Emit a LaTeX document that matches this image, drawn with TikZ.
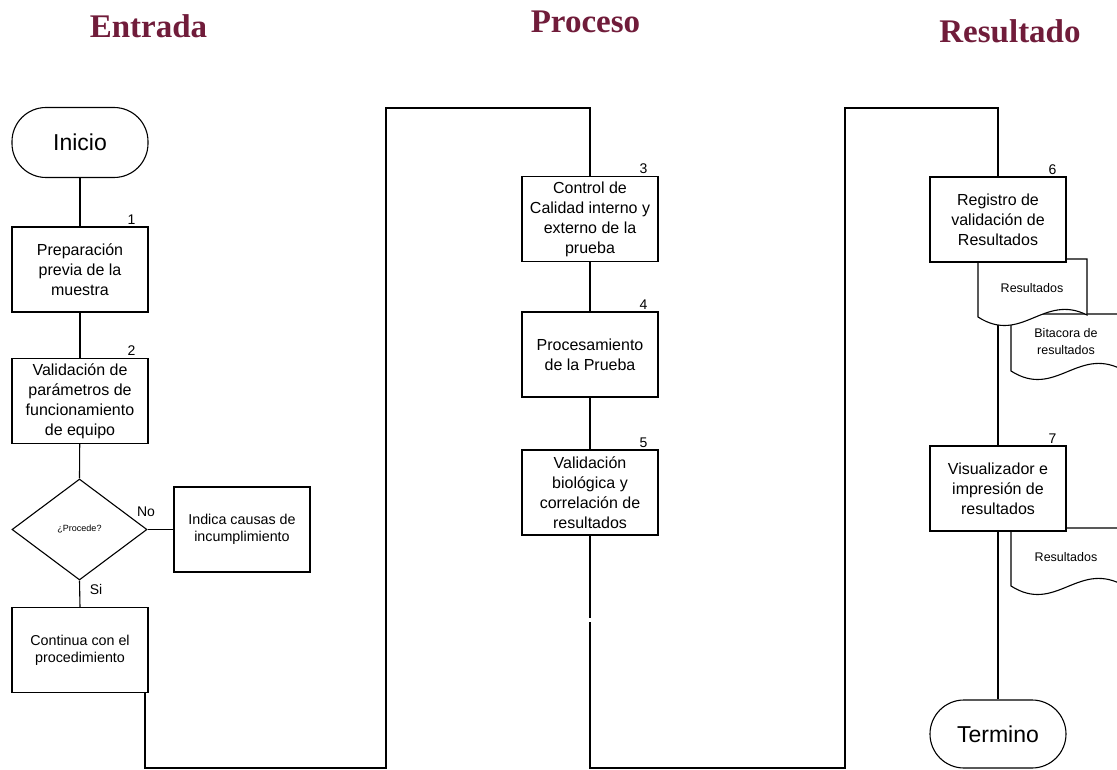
\documentclass[tikz,border=0pt]{standalone}
\usepackage{fontspec}
\setmainfont{Liberation Sans}
\newfontfamily\titlefont{Liberation Serif}
\usetikzlibrary{shapes.geometric,calc}
\definecolor{titlered}{RGB}{112,28,58}

% document symbol with a wavy bottom edge: x0, y0 (top), width, y of lower-left corner
\newcommand\docsym[4]{%
  \draw[fill=white] (#1,#2) -- (#1+#3,#2) -- (#1+#3,#4-2)
    .. controls (#1+0.6*#3,#4-24) and (#1+0.4*#3,#4+28) .. (#1,#4) -- cycle;}

\begin{document}
\begin{tikzpicture}[x=1pt,y=-1pt,line width=1.1pt,
  proc/.style={draw,fill=white,minimum width=136pt,minimum height=85pt,
    inner sep=2pt,align=center,font=\fontsize{16}{20}\selectfont},
  smallproc/.style={proc,font=\fontsize{14.3}{17}\selectfont},
  term/.style={draw,fill=white,rounded corners=34pt,minimum width=136pt,
    minimum height=70pt,font=\fontsize{23}{26}\selectfont},
  decision/.style={draw,fill=white,diamond,minimum width=135pt,minimum height=101pt,
    inner sep=0pt,font=\fontsize{9}{10}\selectfont},
  stepnum/.style={font=\fontsize{14}{14}\selectfont,anchor=base},
  lanetitle/.style={font=\titlefont\bfseries\fontsize{33}{36}\selectfont,
    text=titlered,anchor=base},
  doctext/.style={font=\fontsize{12.5}{17}\selectfont,align=center},
  lbl/.style={font=\fontsize{14}{14}\selectfont}]
\useasboundingbox (0,0) rectangle (1117,770);
\clip (0,0) rectangle (1117,770);

% lane titles
\node[lanetitle] (tin)  at (148.5,38) {Entrada};
\node[lanetitle] (tpro) at (585.5,33) {Proceso};
\node[lanetitle] (tres) at (1010,43) {Resultado};

% ---------- Entrada ----------
\node[term] (inicio) at (80,142.5) {Inicio};
\node[proc] (b1) at (80,269.5) {Preparación\\previa de la\\muestra};
\node[proc] (b2) at (80,401) {Validación de\\parámetros de\\funcionamiento\\de equipo};
\node[decision] (dec) at (79.5,529.5) {¿Procede?};
\node[smallproc] (ind) at (242,529.5) {Indica causas de\\incumplimiento};
\node[smallproc] (cont) at (80,650) {Continua con el\\procedimiento};

\node[stepnum] (n1) at ($(b1.north east)+(-17,-2)$) {1};
\node[stepnum] (n2) at ($(b2.north east)+(-17,-2)$) {2};
\node[lbl] (no) at (146,512) {No};
\node[lbl] (si) at (96,589) {Si};

\draw (inicio) -- (b1);
\draw (b1) -- (b2);
\draw (b2) -- (dec.north);
\draw (dec.east) -- (ind.west);
\draw (dec.south) -- (cont.north);

% ---------- Proceso ----------
\node[proc] (b3) at (590,219) {Control de\\Calidad interno y\\externo de la\\prueba};
\node[proc] (b4) at (590,354.5) {Procesamiento\\de la Prueba};
\node[proc] (b5) at (590,492.5) {Validación\\biológica y\\correlación de\\resultados};
\node[stepnum] (n3) at ($(b3.north east)+(-15,-2)$) {3};
\node[stepnum] (n4) at ($(b4.north east)+(-15,-2)$) {4};
\node[stepnum] (n5) at ($(b5.north east)+(-15,-2)$) {5};
\draw (b3) -- (b4);
\draw (b4) -- (b5);

% ---------- Resultado ----------
\coordinate (r6) at (998,219.5);
\coordinate (r7) at (998,488.5);
\draw (r6) -- (r7);
\docsym{1011}{314}{110}{371}
\docsym{978}{259}{109}{317}
\docsym{1011}{528}{110}{586}
\node[doctext] (d1) at (1032,288) {Resultados};
\node[doctext] (d2) at (1066,342) {Bitacora de\\resultados};
\node[doctext] (d3) at (1066,557) {Resultados};
\node[proc] (b6) at (r6) {Registro de\\validación de\\Resultados};
\node[proc] (b7) at (r7) {Visualizador e\\impresión de\\resultados};
\node[term,minimum height=68pt] (fin) at (998,734) {Termino};
\node[stepnum] (n6) at ($(b6.north east)+(-14,-2)$) {6};
\node[stepnum] (n7) at ($(b7.north east)+(-14,-2)$) {7};
\draw (b7) -- (fin);

% ---------- lane links ----------
\coordinate (c1) at (145,768);
\coordinate (c2) at (386,768);
\coordinate (c3) at (386,108);
\coordinate (c4) at (590,108);
\draw (cont.south -| c1) -- (c1) -- (c2) -- (c3) -- (c4) -- (b3.north);

\coordinate (gapa) at (590,618);
\coordinate (gapb) at (590,622);
\coordinate (c5) at (590,768);
\coordinate (c6) at (845,768);
\coordinate (c7) at (845,108);
\coordinate (c8) at (998,108);
\draw (b5.south) -- (gapa);
\draw (gapb) -- (c5) -- (c6) -- (c7) -- (c8) -- (b6.north);
\end{tikzpicture}
\end{document}
